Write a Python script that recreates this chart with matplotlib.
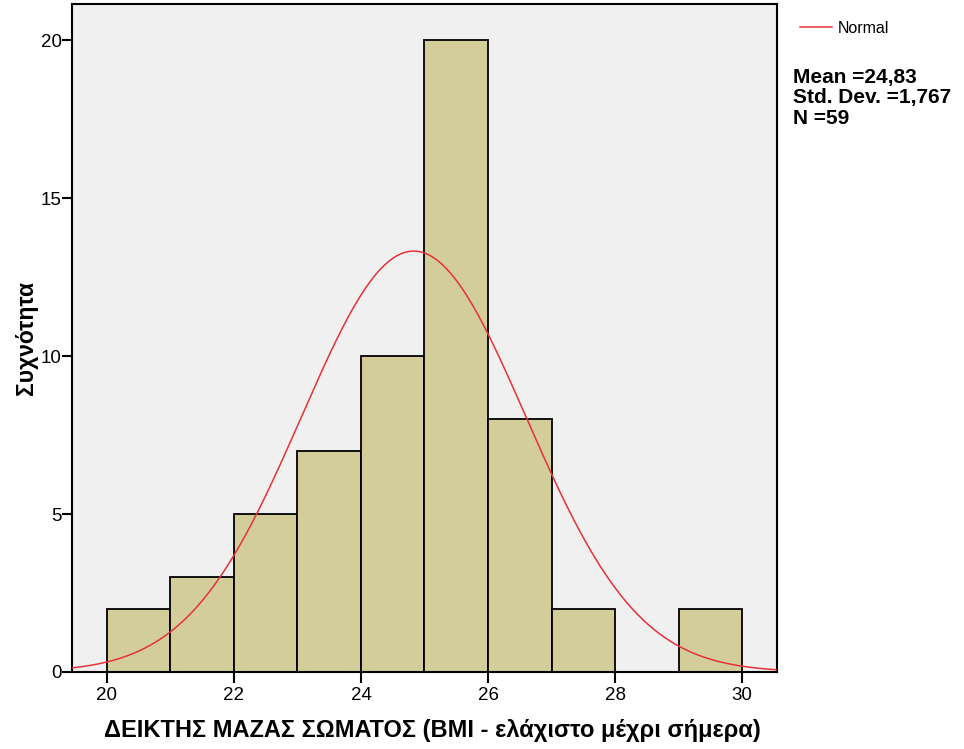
import numpy as np
import matplotlib
matplotlib.use("Agg")
import matplotlib.pyplot as plt

plt.rcParams['font.family'] = ['Liberation Sans', 'DejaVu Sans']

bin_edges = [20, 21, 22, 23, 24, 25, 26, 27, 28, 29, 30]
counts = [2, 3, 5, 7, 10, 20, 8, 2, 0, 2]
mean = 24.83
std = 1.767
n = 59
xticks = [20, 22, 24, 26, 28, 30]
yticks = [0, 5, 10, 15, 20]

fig = plt.figure(figsize=(9.64, 7.49), dpi=100)
ax = fig.add_axes([72/964, 1 - 672/749, (777-72)/964, (672-4)/749])
ax.set_facecolor('#F0F0F0')

lefts = bin_edges[:-1]
widths = np.diff(bin_edges)
ax.bar(lefts, counts, width=widths, align='edge', color='#D3CE99',
       edgecolor='black', linewidth=1.3, zorder=2)

xs = np.linspace(19.45, 30.55, 400)
bw = widths[0]
ys = n * bw / (std * np.sqrt(2 * np.pi)) * np.exp(-0.5 * ((xs - mean) / std) ** 2)
line, = ax.plot(xs, ys, color='#E8313B', linewidth=1.1, zorder=3)

ax.set_xlim(19.45, 30.55)
ax.set_ylim(0, 21.14)
ax.set_xticks(xticks)
ax.set_yticks(yticks)
ax.tick_params(axis='y', direction='out', length=7, width=1.5, labelsize=13.5, pad=0.5)
ax.tick_params(axis='x', direction='out', length=8, width=1.5, labelsize=13.5, pad=3)
for s in ax.spines.values():
    s.set_linewidth(1.5)

ax.set_xlabel('ΔΕΙΚΤΗΣ ΜΑΖΑΣ ΣΩΜΑΤΟΣ (BMI - ελάχιστο μέχρι σήμερα)',
              fontsize=17, fontweight='bold')
ax.xaxis.set_label_coords(0.511, -0.071)
ax.set_ylabel('Συχνότητα', fontsize=16.5, fontweight='bold')
ax.yaxis.set_label_coords(-0.048, 0.5)

fig.legend([line], ['Normal'], loc='upper left', bbox_to_anchor=(800/964, 1 - 21/749),
           frameon=False, fontsize=11.5, handlelength=2.0, handletextpad=0.35,
           borderaxespad=0, borderpad=0)
fig.text(793/964, 1 - 98/749, 'Mean =24,83\nStd. Dev. =1,767\nN =59',
         fontsize=15, fontweight='bold', va='center', ha='left', linespacing=1.08)

fig.savefig('out.png', dpi=100)
